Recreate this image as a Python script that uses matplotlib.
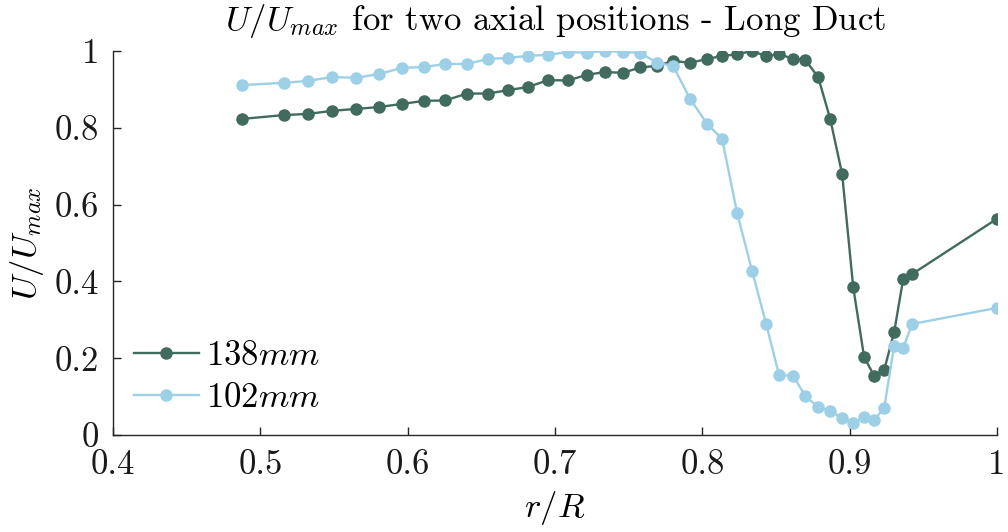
import matplotlib
matplotlib.use('Agg')
import matplotlib.pyplot as plt

# radial positions r/R (same grid for both axial stations)
r_R = [0.4876, 0.5161, 0.5324, 0.5487, 0.5650, 0.5806, 0.5962, 0.6111, 0.6254,
       0.6403, 0.6546, 0.6682, 0.6817, 0.6953, 0.7089, 0.7218, 0.7340, 0.7462,
       0.7578, 0.7693, 0.7802, 0.7917, 0.8033, 0.8134, 0.8236, 0.8338, 0.8433,
       0.8521, 0.8616, 0.8698, 0.8786, 0.8868, 0.8949, 0.9024, 0.9098, 0.9166,
       0.9234, 0.9302, 0.9363, 0.9424, 1.0]

# U/Umax at 138 mm
u_138 = [0.823, 0.833, 0.836, 0.844, 0.849, 0.854, 0.862, 0.870, 0.871,
         0.889, 0.889, 0.898, 0.906, 0.924, 0.923, 0.938, 0.945, 0.943,
         0.957, 0.961, 0.974, 0.969, 0.979, 0.987, 0.991, 1.000, 0.986,
         0.992, 0.979, 0.977, 0.932, 0.823, 0.679, 0.385, 0.203, 0.154,
         0.169, 0.268, 0.406, 0.419, 0.563]

# U/Umax at 102 mm
u_102 = [0.911, 0.917, 0.922, 0.932, 0.930, 0.940, 0.956, 0.958, 0.966,
         0.966, 0.979, 0.982, 0.987, 0.990, 0.997, 0.995, 1.000, 0.997,
         0.995, 0.969, 0.961, 0.875, 0.810, 0.771, 0.578, 0.427, 0.289,
         0.156, 0.154, 0.102, 0.073, 0.063, 0.044, 0.031, 0.047, 0.039,
         0.070, 0.232, 0.227, 0.289, 0.331]

labels = ['$138mm$', '$102mm$']
xticks = [0.4, 0.5, 0.6, 0.7, 0.8, 0.9, 1.0]
xticklabels = ['0.4', '0.5', '0.6', '0.7', '0.8', '0.9', '1']
yticks = [0, 0.2, 0.4, 0.6, 0.8, 1.0]
yticklabels = ['0', '0.2', '0.4', '0.6', '0.8', '1']

plt.rcParams['mathtext.fontset'] = 'cm'
plt.rcParams['font.family'] = ['cmr10', 'DejaVu Serif']
plt.rcParams['axes.unicode_minus'] = False

dark = '#416b5f'
light = '#9dd0e6'
axcol = '#262626'

fig = plt.figure(figsize=(10.08, 5.32), dpi=100)
ax = fig.add_axes([0.1121, 0.1823, 0.877, 0.722])

ax.plot(r_R, u_138, '-o', color=dark, lw=1.7, ms=8, label=labels[0])
ax.plot(r_R, u_102, '-o', color=light, lw=1.7, ms=8, label=labels[1])

ax.set_xlim(0.4, 1.0)
ax.set_ylim(0, 1.0)
ax.set_xticks(xticks)
ax.set_xticklabels(xticklabels)
ax.set_yticks(yticks)
ax.set_yticklabels(yticklabels)

for s in ['top', 'right']:
    ax.spines[s].set_visible(False)
for s in ['left', 'bottom']:
    ax.spines[s].set_color(axcol)
    ax.spines[s].set_linewidth(1.0)
ax.tick_params(direction='in', length=6, width=1.0, color=axcol,
               labelsize=25, pad=10, labelcolor='#1a1a1a')

ax.set_xlabel('$r/R$', fontsize=25, labelpad=6)
ax.set_ylabel('$U/U_{max}$', fontsize=25, labelpad=6)
ax.set_title('$U/U_{max}$ for two axial positions - Long Duct', fontsize=25, pad=15)

ax.legend(loc='lower left', frameon=False, fontsize=25, handlelength=1.87,
          borderaxespad=0.2, handletextpad=0.2, labelspacing=0.3,
          bbox_to_anchor=(0.0, 0.0))

fig.savefig('out.png', dpi=100)
